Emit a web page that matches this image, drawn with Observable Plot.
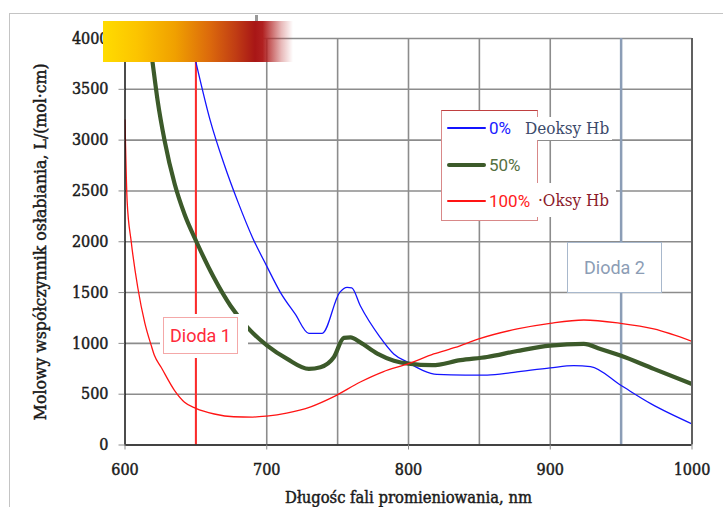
<!DOCTYPE html>
<html><head><meta charset="utf-8">
<script src="https://cdn.jsdelivr.net/npm/d3@7"></script>
<script src="https://cdn.jsdelivr.net/npm/@observablehq/plot@0.6"></script>
<style>
html,body{margin:0;padding:0;background:#fff;}
#wrap{position:relative;width:723px;height:507px;overflow:hidden;background:#fff;}
#wrap svg{position:absolute;left:0;top:0;}
#wrap svg text{paint-order:stroke;stroke:#1a1a1a;stroke-width:0.45px;}
.ov{position:absolute;box-sizing:border-box;}
.sans{font-family:Roboto,"Liberation Sans",sans-serif;}
.serif{font-family:"DejaVu Serif Condensed","DejaVu Serif",serif;}
</style></head><body><div id="wrap"></div>
<script>
// ---- data ----
const xTicks = [600, 700, 800, 900, 1000];
const yTicks = [0, 500, 1000, 1500, 2000, 2500, 3000, 3500, 4000];
const xGrid = [650, 700, 750, 800, 850, 900, 950];
const diodes = [650, 950];
const diodeLabels = ["Dioda 1", "Dioda 2"];
const seriesNames = ["0%", "50%", "100%"];
const seriesNotes = ["Deoksy Hb", "", "·Oksy Hb"];
const xLabel = "Długośc fali promieniowania, nm";
const yLabel = "Molowy współczynnik osłabiania, L/(mol·cm)";

const wlDeoxy = [640, 650, 660, 670, 680, 690, 700, 709.7, 720, 729.7, 739.1, 751.5, 756.7, 760, 766, 780, 789.6, 800, 810, 820, 840, 855.5, 874.3, 900, 916.6, 928.4, 950, 971.2, 1000];
const deoxy   = [4400, 3770, 3200, 2760, 2380, 2040, 1760, 1500, 1290, 1099, 1099, 1502, 1551, 1545, 1370, 1060, 896, 810, 735, 695, 688, 688, 715, 759, 781, 771, 585, 405, 208];

const wlMix = [612, 619.5, 623, 628, 635, 642, 650.4, 662.6, 674.4, 686.2, 700.3, 714.4, 729.7, 737.9, 747.3, 754.4, 759.1, 766, 778, 789.7, 800, 816.7, 836.7, 855.5, 876.7, 899.9, 923.7, 935.4, 949.5, 973, 1000];
const mix   = [4600, 3760, 3390, 2990, 2570, 2270, 2000, 1650, 1370, 1160, 978, 847, 749, 765, 863, 1054, 1060, 1010, 900, 830, 800, 785, 835, 866, 925, 978, 995, 945, 880, 749, 601];

const wlOxy = [600, 601.5, 604.4, 609, 614, 618.5, 620.8, 625.5, 635, 642, 650, 663, 676.7, 690, 700, 714, 731, 747, 766, 782, 800, 817.8, 833, 849.6, 876.7, 899.9, 923.7, 949.5, 973, 1000];
const oxy   = [3200, 2400, 2000, 1550, 1200, 980, 880, 765, 536, 421, 360, 305, 278, 275, 285, 314, 376, 474, 620, 720, 800, 896, 960, 1044, 1142, 1197, 1230, 1197, 1142, 1020];

const colors = ["#1414ff", "#3c5a2a", "#ff1414"];
const widths = [1.3, 4.2, 1.3];

const rows = (wl, v, s) => wl.map((x, i) => ({x, y: v[i], s}));
const data = [rows(wlDeoxy, deoxy, seriesNames[0]), rows(wlMix, mix, seriesNames[1]), rows(wlOxy, oxy, seriesNames[2])];

const serifFont = "'DejaVu Serif Condensed','DejaVu Serif',serif";
const gridStyle = {stroke: "#8c8c8c", strokeOpacity: 1, strokeWidth: 1.6};

const chart = Plot.plot({
  width: 723, height: 507,
  marginLeft: 124.5, marginRight: 31.5, marginTop: 38, marginBottom: 62.5,
  style: {fontFamily: serifFont, fontSize: "16px", color: "#1a1a1a", background: "transparent"},
  x: {domain: [600, 1000]},
  y: {domain: [0, 4000]},
  marks: [
    Plot.gridX(xGrid, gridStyle),
    Plot.gridY(yTicks, gridStyle),
    Plot.ruleX([diodes[1]], {stroke: "#8b9db6", strokeWidth: 2.5}),
    Plot.ruleX([diodes[0]], {stroke: "#ff2a2a", strokeWidth: 2}),
    ...data.map((d, i) => Plot.line(d, {x: "x", y: "y", stroke: colors[i], strokeWidth: widths[i], curve: "monotone-x", clip: true})),
    Plot.ruleX([1000], {stroke: "#606060", strokeWidth: 2, y1: 0, y2: 4000}),
    Plot.ruleX([600], {stroke: "#111", strokeWidth: 1.5}),
    Plot.ruleY([0], {stroke: "#222", strokeWidth: 1.3}),
    Plot.axisX(xTicks, {tickSize: 5, tickPadding: 14, stroke: "#8c8c8c", label: null, tickFormat: d => String(d), fill: "#1a1a1a"}),
    Plot.axisY(yTicks, {tickSize: 6, tickPadding: 10.5, stroke: "#8c8c8c", label: null, tickFormat: d => String(d), fill: "#1a1a1a"}),
    Plot.text([xLabel], {text: d => d, frameAnchor: "bottom", dy: 52.5, textAnchor: "middle", lineAnchor: "middle", fontSize: 16, fill: "#1a1a1a", className: "xlab"}),
    Plot.text([yLabel], {text: d => d, frameAnchor: "left", rotate: -90, dx: -84.5, textAnchor: "middle", lineAnchor: "middle", fontSize: 16, fill: "#1a1a1a", className: "ylab"})
  ]
});

const wrap = document.getElementById("wrap");
wrap.appendChild(chart);

// fit the axis titles to the widths they span in the reference
function fit(sel, target) {
  const t = chart.querySelector(sel + " text");
  if (!t) return;
  const fs = parseFloat(t.getAttribute("font-size") || getComputedStyle(t).fontSize);
  const len = t.getComputedTextLength();
  if (len > 0) t.setAttribute("font-size", (fs * target / len).toFixed(2));
}
fit(".xlab", 247);
fit(".ylab", 357);

function ov(html, css, cls) {
  const d = document.createElement("div");
  d.className = "ov " + (cls || "");
  d.style.cssText = css;
  d.innerHTML = html;
  wrap.appendChild(d);
  return d;
}
// outer frame
ov("", "left:9px;top:13px;width:800px;height:700px;border:1.5px solid #c4c4c4;");
// small mark at top
ov("", "left:255px;top:15px;width:3px;height:7px;background:#999;");
// gradient bar
ov("", "left:103px;top:21px;width:190px;height:41px;background:linear-gradient(to right,#ffdc00 0%,#fcc400 18%,#f0a000 38%,#dc6a0c 56%,#c03c14 70%,#a81616 80%,#b02020 84%,rgba(190,60,60,0.35) 94%,rgba(255,255,255,0) 100%);");
// diode labels
ov("", "left:160px;top:314px;width:88px;height:44px;background:#fff;");
ov(diodeLabels[0], "left:163px;top:317px;width:75px;height:37px;border:1px solid #f4a8a8;background:#fff;color:#ff2a3a;font-size:18px;line-height:35px;text-align:center;", "sans");
ov(diodeLabels[1], "left:567px;top:242px;width:95px;height:51px;border:1.2px solid #a8b8cc;background:#fff;color:#8c9db5;font-size:18px;line-height:49px;text-align:center;", "sans");
// legend
ov("", "left:441px;top:110px;width:97px;height:111px;border:1.5px solid #d88888;border-top-color:#c04040;background:#fff;");
const ly = [127.5, 164.5, 200.5];
const lh = [2, 4, 2];
const ltxt = ["#2020ff", "#55703f", "#ff2020"];
seriesNames.forEach((n, i) => {
  ov("", `left:447px;top:${ly[i] - lh[i] / 2}px;width:39px;height:${lh[i]}px;background:${colors[i]};border-radius:2px;`);
  ov(n, `left:489px;top:${ly[i] - 11}px;height:22px;line-height:22px;font-size:17px;color:${ltxt[i]};white-space:nowrap;`, "sans");
});
ov(seriesNotes[0], "left:522px;top:117px;width:90px;height:23px;background:#fff;color:#3c4a6a;font-size:17px;line-height:23px;padding-left:3px;white-space:nowrap;", "serif");
ov(seriesNotes[2], "left:536px;top:183px;width:80px;height:34px;background:#fff;color:#8b1a2a;font-size:17px;line-height:34px;padding-left:2px;white-space:nowrap;", "serif");
</script>
</body></html>
